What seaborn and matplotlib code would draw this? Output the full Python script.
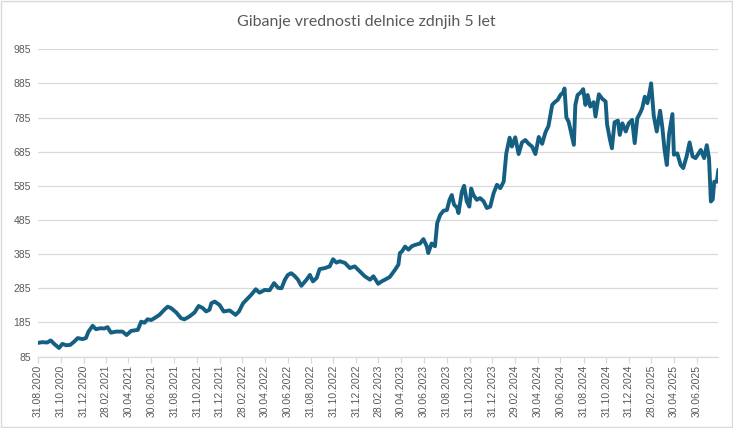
import matplotlib
matplotlib.use("Agg")
import matplotlib.pyplot as plt
import matplotlib.dates as mdates
import pandas as pd
import seaborn as sns

# datumi in vrednosti delnice (odčitano z grafa)
dates = [
    "2020-08-31", "2020-09-11", "2020-09-24", "2020-10-04", "2020-10-13", "2020-10-26",
    "2020-11-04", "2020-11-14", "2020-11-25", "2020-12-06", "2020-12-15", "2020-12-28",
    "2021-01-06", "2021-01-13", "2021-01-24", "2021-02-02", "2021-02-15", "2021-02-24",
    "2021-03-05", "2021-03-14", "2021-03-28", "2021-04-14", "2021-04-25", "2021-05-07",
    "2021-05-25", "2021-06-03", "2021-06-12", "2021-06-20", "2021-06-30", "2021-07-08",
    "2021-07-22", "2021-08-04", "2021-08-13", "2021-08-22", "2021-09-05", "2021-09-18",
    "2021-09-27", "2021-10-10", "2021-10-24", "2021-11-04", "2021-11-15", "2021-11-24",
    "2021-12-03", "2021-12-08", "2021-12-17", "2021-12-30", "2022-01-10", "2022-01-26",
    "2022-02-11", "2022-02-20", "2022-03-03", "2022-03-16", "2022-03-25", "2022-04-06",
    "2022-04-16", "2022-04-30", "2022-05-13", "2022-05-25", "2022-06-05", "2022-06-14",
    "2022-06-23", "2022-07-01", "2022-07-10", "2022-07-19", "2022-07-28", "2022-08-06",
    "2022-08-20", "2022-08-29", "2022-09-06", "2022-09-16", "2022-09-24", "2022-10-08",
    "2022-10-21", "2022-10-30", "2022-11-08", "2022-11-17", "2022-12-01", "2022-12-14",
    "2022-12-27", "2023-01-10", "2023-01-23", "2023-02-06", "2023-02-15", "2023-02-28",
    "2023-03-09", "2023-03-18", "2023-03-31", "2023-04-14", "2023-04-23", "2023-04-27",
    "2023-05-02", "2023-05-11", "2023-05-20", "2023-05-29", "2023-06-07", "2023-06-20",
    "2023-06-29", "2023-07-08", "2023-07-12", "2023-07-21", "2023-07-30", "2023-08-05",
    "2023-08-13", "2023-08-22", "2023-08-31", "2023-09-07", "2023-09-13", "2023-09-19",
    "2023-09-27", "2023-10-01", "2023-10-10", "2023-10-16", "2023-10-23", "2023-10-30",
    "2023-11-04", "2023-11-10", "2023-11-19", "2023-11-28", "2023-12-07", "2023-12-16",
    "2023-12-25", "2024-01-03", "2024-01-12", "2024-01-21", "2024-01-30", "2024-02-06",
    "2024-02-15", "2024-02-21", "2024-03-01", "2024-03-10", "2024-03-19", "2024-03-28",
    "2024-04-06", "2024-04-15", "2024-04-24", "2024-05-03", "2024-05-12", "2024-05-21",
    "2024-05-29", "2024-06-08", "2024-06-14", "2024-06-23", "2024-06-30", "2024-07-07",
    "2024-07-11", "2024-07-16", "2024-07-22", "2024-07-29", "2024-08-05", "2024-08-09",
    "2024-08-15", "2024-08-23", "2024-08-30", "2024-09-05", "2024-09-11", "2024-09-18",
    "2024-09-27", "2024-10-02", "2024-10-11", "2024-10-20", "2024-10-29", "2024-11-02",
    "2024-11-09", "2024-11-15", "2024-11-22", "2024-12-01", "2024-12-06", "2024-12-13",
    "2024-12-22", "2024-12-30", "2025-01-08", "2025-01-15", "2025-01-22", "2025-01-29",
    "2025-02-04", "2025-02-11", "2025-02-18", "2025-02-25", "2025-02-28", "2025-03-07",
    "2025-03-15", "2025-03-24", "2025-03-30", "2025-04-05", "2025-04-11", "2025-04-17",
    "2025-04-26", "2025-04-30", "2025-05-09", "2025-05-18", "2025-05-25", "2025-06-03",
    "2025-06-11", "2025-06-19", "2025-06-27", "2025-07-11", "2025-07-20", "2025-07-27",
    "2025-08-02", "2025-08-07", "2025-08-12", "2025-08-16", "2025-08-23", "2025-08-27",
]
prices = [
    125, 127, 126, 132, 122, 110,
    122, 118, 119, 129, 139, 136,
    139, 158, 175, 165, 168, 167,
    171, 155, 158, 158, 148, 160,
    163, 187, 184, 194, 192, 197,
    207, 222, 231, 227, 214, 197,
    194, 202, 214, 233, 227, 217,
    222, 241, 246, 236, 217, 220,
    207, 217, 241, 256, 266, 282,
    272, 280, 279, 300, 286, 285,
    310, 324, 329, 321, 310, 292,
    310, 324, 305, 315, 341, 344,
    349, 370, 360, 364, 359, 344,
    349, 334, 320, 310, 320, 298,
    305, 310, 318, 339, 354, 388,
    392, 407, 398, 408, 412, 416,
    429, 408, 388, 416, 408, 476,
    500, 512, 514, 544, 558, 530,
    521, 505, 568, 585, 540, 524,
    577, 558, 544, 549, 540, 520,
    524, 563, 588, 578, 597, 680,
    726, 700, 727, 678, 712, 719,
    708, 700, 678, 728, 708, 742,
    760, 822, 829, 837, 851, 858,
    870, 785, 773, 739, 705, 822,
    851, 858, 868, 822, 851, 817,
    830, 788, 853, 840, 832, 765,
    724, 695, 771, 776, 734, 768,
    744, 768, 778, 710, 783, 797,
    812, 846, 827, 866, 885, 790,
    744, 805, 756, 690, 646, 736,
    795, 676, 680, 646, 637, 671,
    712, 671, 666, 690, 666, 704,
    666, 539, 545, 597, 597, 632,
]
y_ticks = list(range(85, 986, 100))
title = "Gibanje vrednosti delnice zdnjih 5 let"

df = pd.DataFrame({"datum": pd.to_datetime(dates), "vrednost": prices})

sns.set_style("white")
plt.rcParams["font.family"] = ["Liberation Sans", "DejaVu Sans"]

fig = plt.figure(figsize=(7.33, 4.28), dpi=100)
ax = fig.add_axes([0.052, 0.167, 0.928, 0.718])

sns.lineplot(data=df, x="datum", y="vrednost", ax=ax, color="#156082", linewidth=2.8)

ax.set_ylim(85, 985)
ax.set_yticks(y_ticks)
ax.set_xlim(df["datum"].min(), df["datum"].max())
x_ticks = pd.date_range(df["datum"].min(), df["datum"].max(), freq="2ME")
ax.set_xticks(x_ticks)
ax.xaxis.set_major_formatter(mdates.DateFormatter("%d.%m.%Y"))

ax.set_xlabel("")
ax.set_ylabel("")
ax.yaxis.grid(True, color="#d9d9d9", linewidth=0.9)
ax.xaxis.grid(False)
for side in ["top", "left", "right"]:
    ax.spines[side].set_visible(False)
ax.spines["bottom"].set_color("#d9d9d9")
ax.spines["bottom"].set_linewidth(0.9)

ax.tick_params(axis="x", length=4, width=0.9, color="#d9d9d9", labelcolor="#595959",
               labelsize=7.5, rotation=90, pad=2, bottom=True)
ax.tick_params(axis="y", length=0, labelcolor="#595959", labelsize=7.5, pad=5)

fig.text(0.5, 0.948, title, ha="center", va="center", fontsize=11.5,
         color="#595959", family="Lato")

fig.add_artist(plt.Rectangle((0.001, 0.002), 0.997, 0.996, transform=fig.transFigure,
                             fill=False, edgecolor="#d9d9d9", linewidth=1))

fig.savefig("out.png", dpi=100)
